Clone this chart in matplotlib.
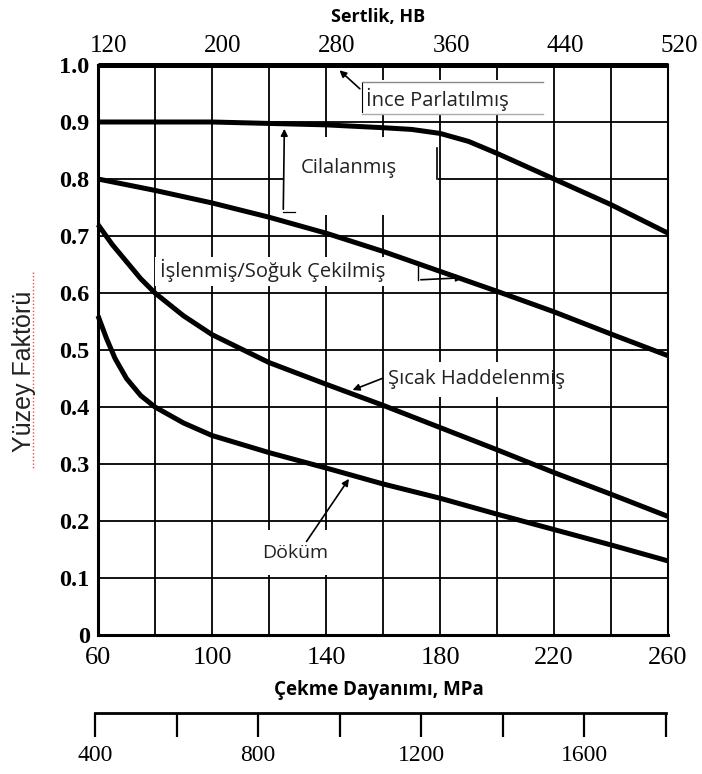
import matplotlib
matplotlib.use("Agg")
import matplotlib.pyplot as plt
from matplotlib.ticker import FixedLocator, FuncFormatter
from matplotlib.lines import Line2D
from matplotlib.transforms import ScaledTranslation, blended_transform_factory

# ---- data (tensile strength in kpsi, surface factor) ----
ksi_ticks = [60, 100, 140, 180, 220, 260]
grid_x = [60, 80, 100, 120, 140, 160, 180, 200, 220, 240, 260]
y_ticks = [0, 0.1, 0.2, 0.3, 0.4, 0.5, 0.6, 0.7, 0.8, 0.9, 1.0]
hb_ticks = [120, 200, 280, 360, 440, 520]
mpa_ticks = [400, 600, 800, 1000, 1200, 1400, 1600, 1800]
mpa_labels = ["400", "", "800", "", "1200", "", "1600", ""]

polished_x = [60, 260]
polished_y = [1.0, 1.0]

ground_x = [60, 100, 140, 160, 170, 180, 190, 200, 220, 240, 260]
ground_y = [0.90, 0.90, 0.895, 0.89, 0.887, 0.88, 0.866, 0.845, 0.80, 0.755, 0.705]

machined_x = [60, 80, 100, 120, 140, 160, 180, 200, 220, 240, 260]
machined_y = [0.80, 0.78, 0.758, 0.733, 0.705, 0.673, 0.638, 0.603, 0.567, 0.528, 0.49]

hotrolled_x = [60, 65, 70, 75, 80, 90, 100, 120, 140, 160, 180, 200, 220, 240, 260]
hotrolled_y = [0.72, 0.685, 0.655, 0.625, 0.60, 0.56, 0.527, 0.478, 0.44, 0.403, 0.364, 0.325, 0.285, 0.247, 0.208]

forged_x = [60, 63, 66, 70, 75, 80, 90, 100, 120, 140, 160, 180, 200, 220, 240, 260]
forged_y = [0.56, 0.52, 0.485, 0.45, 0.42, 0.40, 0.372, 0.35, 0.32, 0.293, 0.265, 0.24, 0.212, 0.185, 0.158, 0.13]

fig = plt.figure(figsize=(7.02, 7.74), dpi=100)
W, H = 702.0, 774.0
ax = fig.add_axes([98 / W, (H - 635) / H, 570 / W, 570 / H])
ax.set_xlim(60, 260)
ax.set_ylim(0, 1.0)

# grid
ax.xaxis.set_major_locator(FixedLocator(grid_x))
ax.yaxis.set_major_locator(FixedLocator(y_ticks))
ax.grid(True, color="black", lw=1.3, zorder=1)
ax.tick_params(length=0)
ax.set_axisbelow(True)

xlab = {v: str(v) for v in ksi_ticks}
ax.xaxis.set_major_formatter(FuncFormatter(lambda v, p: xlab.get(int(round(v)), "")))
ax.yaxis.set_major_formatter(FuncFormatter(lambda v, p: "0" if abs(v) < 1e-9 else f"{v:.1f}"))
for lab in ax.get_xticklabels():
    lab.set_fontfamily("Liberation Serif")
    lab.set_fontsize(19)
for lab in ax.get_yticklabels():
    lab.set_fontfamily("Liberation Serif")
    lab.set_fontsize(17.5)
    lab.set_fontweight("bold")
ax.tick_params(axis="x", pad=9)
ax.tick_params(axis="y", pad=6)

for s in ["left", "bottom"]:
    ax.spines[s].set_linewidth(2.2)
for s in ["right", "top"]:
    ax.spines[s].set_linewidth(1.5)

# curves
kw = dict(color="black", lw=3.6, solid_capstyle="butt", zorder=5, clip_on=False)
ax.plot(polished_x, polished_y, **kw)
ax.plot(ground_x, ground_y, **kw)
ax.plot(machined_x, machined_y, **kw)
ax.plot(hotrolled_x, hotrolled_y, **kw)
ax.plot(forged_x, forged_y, **kw)

# label boxes (white patches covering the grid)
def box(x0, x1, y0, y1):
    ax.fill_between([x0, x1], [y0, y0], [y1, y1], color="white", lw=0, zorder=2)

lbl = dict(fontfamily="Open Sans", fontsize=14.5, color="#222222", va="center", ha="left", zorder=6)
arr = dict(arrowstyle="-|>", color="black", lw=1.2, mutation_scale=10)

box(152.6, 216.8, 0.912, 0.974)
ax.plot([152.6, 216.0], [0.970, 0.970], color="#888888", lw=1.0, zorder=3)
ax.plot([152.6, 216.0], [0.914, 0.914], color="#aaaaaa", lw=1.0, zorder=3)
ax.text(154.0, 0.940, "İnce Parlatılmış", **lbl)
ax.annotate("", xy=(144.0, 0.994), xytext=(152.6, 0.955), arrowprops=arr, zorder=6)
ax.plot([152.6, 152.6], [0.918, 0.968], color="black", lw=0.8, zorder=3)

box(124.9, 179.3, 0.737, 0.874)
ax.text(131.0, 0.820, "Cilalanmış", **lbl)
ax.annotate("", xy=(125.4, 0.893), xytext=(125.0, 0.742), arrowprops=arr, zorder=6)
ax.plot([125.0, 129.0], [0.742, 0.742], color="black", lw=0.9, zorder=6)
ax.plot([179.0, 179.0], [0.80, 0.855], color="black", lw=1.2, zorder=3)

box(80.0, 171.5, 0.612, 0.664)
ax.text(81.8, 0.639, "İşlenmiş/Soğuk Çekilmiş", **lbl)
ax.plot([172.3, 172.3], [0.623, 0.655], color="black", lw=1.0, zorder=6)
ax.annotate("", xy=(189.0, 0.627), xytext=(172.3, 0.623), arrowprops=arr, zorder=6)

box(160.7, 202.0, 0.418, 0.479)
ax.text(161.8, 0.449, "Şıcak Haddelenmiş", **lbl)
ax.annotate("", xy=(148.4, 0.428), xytext=(160.7, 0.452), arrowprops=arr, zorder=6)

box(109.8, 141.4, 0.105, 0.184)
ax.text(117.5, 0.144, "Döküm", **dict(lbl, fontsize=14))
ax.annotate("", xy=(148.6, 0.278), xytext=(132.6, 0.160), arrowprops=arr, zorder=6)

# top hardness axis (labels drawn via the twin axis' data scale, nudged right as in the scan)
top = ax.twiny()
top.set_xlim(120, 520)
top.set_xticks([])
for s in top.spines.values():
    s.set_visible(False)
shift = ScaledTranslation(11 / 100, 8 / 100, fig.dpi_scale_trans)
btr = blended_transform_factory(top.transData, top.transAxes) + shift
for v in hb_ticks:
    top.text(v, 1.0, str(v), transform=btr, ha="center", va="bottom",
             fontfamily="Liberation Serif", fontsize=18, clip_on=False)
fig.text(378 / W, 1 - 17 / H, "Sertlik, HB", fontfamily="Open Sans", fontweight="bold",
         fontsize=13, ha="center", va="center")

fig.text(24 / W, 1 - 371 / H, "Yüzey Faktörü", fontfamily="Liberation Sans", fontsize=18,
         color="#222222", rotation=90, ha="center", va="center")
fig.add_artist(Line2D([33 / W, 33 / W], [1 - 272 / H, 1 - 470 / H], color="#e05050",
                      lw=1.0, ls=(0, (1, 1.5)), transform=fig.transFigure))

# bottom MPa scale
fig.text(379 / W, 1 - 690 / H, "Çekme Dayanımı, MPa", fontfamily="Open Sans", fontweight="bold",
         fontsize=13.5, ha="center", va="center")
mp = fig.add_axes([95 / W, (H - 713) / H, 571 / W, 0.0001])
mp.set_xlim(400, 1800)
mp.set_ylim(0, 1)
mp.set_xticks(mpa_ticks)
mp.set_xticklabels(mpa_labels, fontfamily="Liberation Serif", fontsize=17)
mp.set_yticks([])
for s in ["left", "right", "top"]:
    mp.spines[s].set_visible(False)
mp.spines["bottom"].set_linewidth(2.0)
mp.tick_params(axis="x", direction="out", length=17, width=1.6, pad=6)
mp.patch.set_alpha(0)

fig.savefig("out.png", dpi=100)
